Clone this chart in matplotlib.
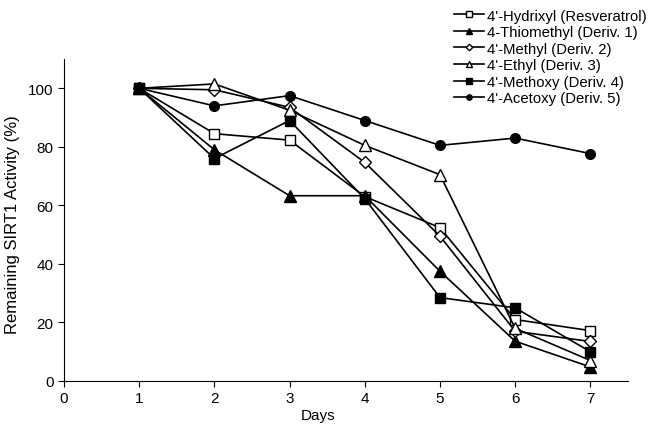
import matplotlib.pyplot as plt
import numpy as np

plt.rcParams['font.family'] = ['Liberation Sans', 'DejaVu Sans']

days = [1, 2, 3, 4, 5, 6, 7]

# Actividad restante de SIRT1 (%) por compuesto
resveratrol = [100, 84.5, 82.3, 63, 52.4, 21, 17.2]
thiomethyl = [100, 79, 63.3, 63.3, 37.5, 13.6, 4.8]
methyl = [100, 99.5, 93.5, 74.7, 49.5, 17, 13.5]
ethyl = [100, 101.5, 92.5, 80.5, 70.5, 18, 7]
methoxy = [100, 76, 89, 62.3, 28.5, 25, 10]
acetoxy = [100, 94, 97.5, 89, 80.5, 83, 77.7]

labels = ["4'-Hydrixyl (Resveratrol)", "4-Thiomethyl (Deriv. 1)", "4'-Methyl (Deriv. 2)",
          "4'-Ethyl (Deriv. 3)", "4'-Methoxy (Deriv. 4)", "4'-Acetoxy (Deriv. 5)"]

fig = plt.figure(figsize=(6.55, 4.31), dpi=100)
ax = fig.add_axes([0.0977, 0.1137, 0.861, 0.747])

series = [resveratrol, thiomethyl, methyl, ethyl, methoxy, acetoxy]
markers = ['s', '^', 'D', '^', 's', 'o']
fills = ['white', 'black', 'white', 'white', 'black', 'black']
sizes = [7, 8, 6, 8, 7, 7]

for vals, m, fc, ms, lab in zip(series, markers, fills, sizes, labels):
    ax.plot(days, vals, color='black', lw=1.2, marker=m, markersize=ms,
            markerfacecolor=fc, markeredgecolor='black', markeredgewidth=1.0, label=lab)

ax.set_xlim(0, 7.5)
ax.set_ylim(0, 110)
ax.set_xticks(range(0, 8))
ax.set_yticks(range(0, 101, 20))
ax.spines['top'].set_visible(False)
ax.spines['right'].set_visible(False)
ax.tick_params(direction='out', length=4, labelsize=11)
ax.set_xlabel('Days', fontsize=11)
ax.set_ylabel('Remaining SIRT1 Activity (%)', fontsize=12)
ax.xaxis.set_label_coords(0.45, -0.085)
ax.yaxis.set_label_coords(-0.078, 0.49)

ax.legend(loc='upper right', bbox_to_anchor=(1.044, 1.175), frameon=False, fontsize=10.7,
          markerscale=0.55, handlelength=2.0, labelspacing=0.17, handletextpad=0.2,
          borderaxespad=0)

fig.savefig('out.png', dpi=100)
